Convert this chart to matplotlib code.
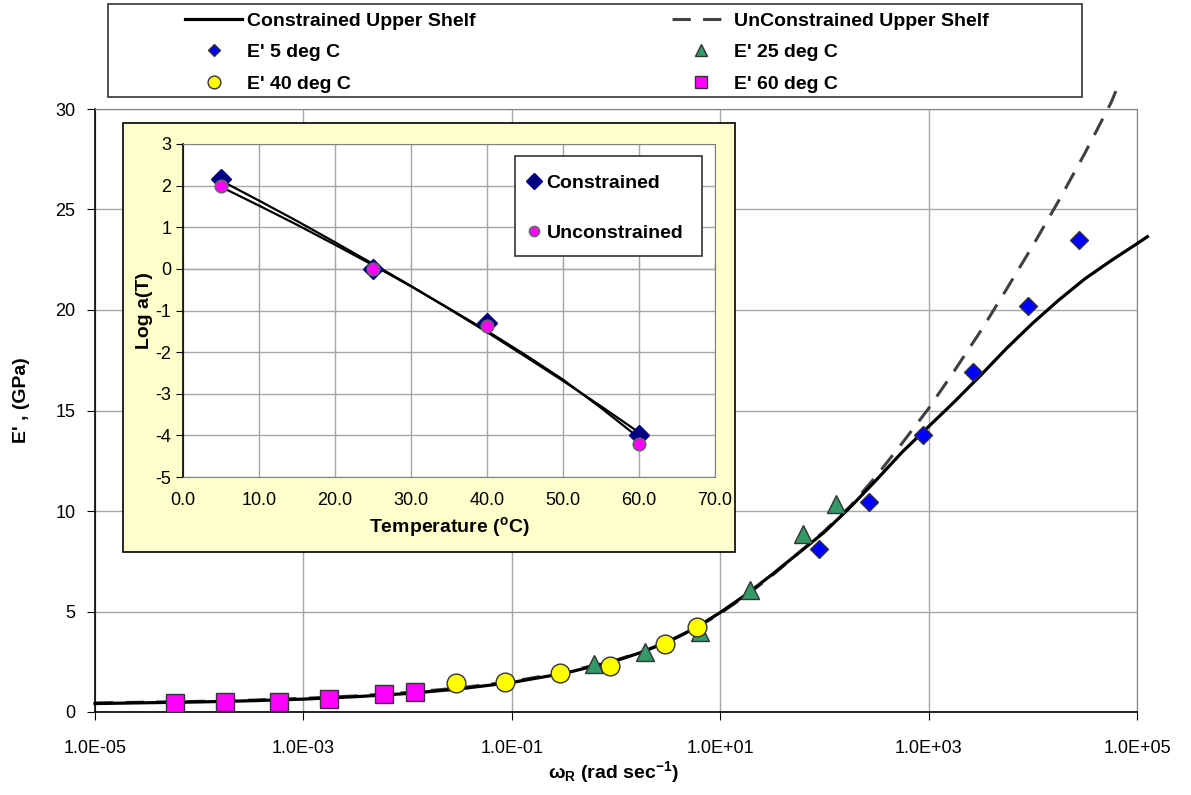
import matplotlib
matplotlib.use("Agg")
import matplotlib.pyplot as plt
from matplotlib.patches import Rectangle
from matplotlib.ticker import NullLocator, NullFormatter

plt.rcParams['font.family'] = ['Liberation Sans', 'DejaVu Sans']
plt.rcParams['axes.unicode_minus'] = False
plt.rcParams['mathtext.fontset'] = 'custom'
plt.rcParams['mathtext.rm'] = 'Liberation Sans'
plt.rcParams['mathtext.bf'] = 'Liberation Sans:bold'
plt.rcParams['mathtext.it'] = 'Liberation Sans:italic'

# --- master curve data (reduced frequency, rad/s ; E' in GPa) ---
w_5C = [89, 268, 890, 2690, 8930, 28000]
E_5C = [8.09, 10.46, 13.78, 16.93, 20.2, 23.5]
w_25C = [0.62, 1.9, 6.4, 19.3, 62.8, 128]
E_25C = [2.39, 2.98, 4.0, 6.07, 8.86, 10.35]
w_40C = [0.029, 0.086, 0.29, 0.88, 2.95, 5.98]
E_40C = [1.46, 1.51, 1.92, 2.29, 3.38, 4.21]
w_60C = [5.9e-5, 1.77e-4, 5.8e-4, 1.76e-3, 5.9e-3, 1.18e-2]
E_60C = [0.46, 0.48, 0.51, 0.65, 0.88, 0.98]

# fitted upper shelf curves
fit_w = [1e-5, 3.16e-5, 1e-4, 3.16e-4, 1e-3, 3.16e-3, 1e-2, 3.16e-2, 0.1, 0.316,
         1, 1.78, 3.16, 5.62, 10, 17.8, 31.6, 56.2, 100, 178, 316, 562, 1000,
         1780, 3160, 5620, 1e4, 1.78e4, 3.16e4, 5.62e4, 1e5, 1.26e5]
E_constr = [0.42, 0.46, 0.50, 0.56, 0.64, 0.76, 0.92, 1.15, 1.47, 1.92,
            2.55, 2.98, 3.5, 4.15, 4.95, 5.85, 6.85, 7.9, 8.95, 10.2, 11.55, 12.95, 14.2,
            15.45, 16.75, 18.1, 19.35, 20.5, 21.55, 22.45, 23.3, 23.65]
fit_w_u = [1e-5, 3.16e-5, 1e-4, 3.16e-4, 1e-3, 3.16e-3, 1e-2, 3.16e-2, 0.1, 0.316,
           1, 1.78, 3.16, 5.62, 10, 17.8, 31.6, 56.2, 100, 178, 316, 562, 1000,
           1780, 3160, 5620, 1e4, 1.78e4, 3.16e4, 5.62e4, 6.46e4]
E_unconstr = [0.45, 0.49, 0.53, 0.59, 0.68, 0.80, 0.97, 1.20, 1.52, 1.97,
              2.58, 3.0, 3.5, 4.12, 4.9, 5.8, 6.8, 7.9, 9.0, 10.25, 11.75, 13.4, 15.1,
              17.0, 18.95, 21.05, 23.2, 25.45, 27.8, 30.3, 31.05]

# --- shift factor inset ---
temps = [5, 25, 40, 60]
loga_constr = [2.15, 0.0, -1.3, -4.0]
loga_unconstr = [1.98, 0.0, -1.38, -4.2]
T_fit = [5, 10, 15, 20, 25, 30, 35, 40, 45, 50, 55, 60]
loga_fit_c = [2.12, 1.64, 1.15, 0.64, 0.12, -0.41, -0.96, -1.52, -2.10, -2.69, -3.30, -3.93]
loga_fit_u = [1.97, 1.52, 1.06, 0.58, 0.09, -0.42, -0.95, -1.49, -2.06, -2.66, -3.34, -4.06]

W, H = 1191, 795
fig = plt.figure(figsize=(W / 100, H / 100), dpi=100)

def fbox(x0, y0, x1, y1):
    # pixel box -> figure fraction [left, bottom, width, height]
    return [x0 / W, 1 - y1 / H, (x1 - x0) / W, (y1 - y0) / H]

grid_c = '#A6A6A6'
edge_c = '#333333'

# main axes
ax = fig.add_axes(fbox(95, 109, 1137, 712))
ax.set_xscale('log')
ax.set_xlim(1e-5, 1e5)
ax.set_ylim(0, 30)
ax.set_xticks([1e-5, 1e-3, 1e-1, 1e1, 1e3, 1e5])
ax.set_xticklabels(['1.0E-05', '1.0E-03', '1.0E-01', '1.0E+01', '1.0E+03', '1.0E+05'])
ax.xaxis.set_minor_locator(NullLocator())
ax.set_yticks(range(0, 31, 5))
ax.grid(True, color=grid_c, lw=1)
ax.set_axisbelow(True)
for s in ['top', 'right']:
    ax.spines[s].set_color('#808080')
for s in ['left', 'bottom']:
    ax.spines[s].set_color('black')
    ax.spines[s].set_linewidth(1.2)
ax.tick_params(direction='out', length=6, labelsize=13, pad=8)
ax.tick_params(axis='x', pad=14)

l_c, = ax.plot(fit_w, E_constr, color='black', lw=2.3, clip_on=False, zorder=3,
               label='Constrained Upper Shelf')
l_u, = ax.plot(fit_w_u, E_unconstr, color='#404040', lw=2.2, dashes=(6, 4),
               clip_on=False, zorder=2, label='UnConstrained Upper Shelf')
m5, = ax.plot(w_5C, E_5C, 'D', ms=9.5, mfc='#0000FF', mec=edge_c, mew=1, ls='none',
              zorder=4, label="E' 5 deg C")
m25, = ax.plot(w_25C, E_25C, '^', ms=13, mfc='#339966', mec=edge_c, mew=1, ls='none',
               zorder=4, label="E' 25 deg C")
m40, = ax.plot(w_40C, E_40C, 'o', ms=13.5, mfc='#FFFF00', mec=edge_c, mew=1, ls='none',
               zorder=5, label="E' 40 deg C")
m60, = ax.plot(w_60C, E_60C, 's', ms=13, mfc='#FF00FF', mec=edge_c, mew=1, ls='none',
               zorder=4, label="E' 60 deg C")

fig.text(22 / W, 1 - 400 / H, "E' , (GPa)", rotation=90, ha='center', va='center',
         fontsize=14, fontweight='bold')
fig.text(613 / W, 1 - 772 / H, r'ω$_{\mathbf{R}}$ (rad sec$^{\mathbf{-1}}$)',
         ha='center', va='center', fontsize=14, fontweight='bold')

# top legend
fig.add_artist(Rectangle((108 / W, 1 - 97 / H), (1082 - 108) / W, 93 / H,
                         transform=fig.transFigure, fill=False, edgecolor='#333333',
                         lw=1.2, zorder=1))
leg_kw = dict(loc='upper left', frameon=False, handlelength=2.95,
              handletextpad=0.25, labelspacing=0.72, borderpad=0, borderaxespad=0,
              markerscale=0.68, prop={'weight': 'bold', 'size': 14})
fig.legend(handles=[l_c, m5, m40], bbox_to_anchor=(185 / W, 1 - 12 / H), **leg_kw)
fig.legend(handles=[l_u, m25, m60], bbox_to_anchor=(672 / W, 1 - 12 / H), **leg_kw)

# inset panel
fig.add_artist(Rectangle((123 / W, 1 - 552 / H), (735 - 123) / W, (552 - 123) / H,
                         transform=fig.transFigure, facecolor='#FFFFCC',
                         edgecolor='black', lw=1.2, zorder=1))
iax = fig.add_axes(fbox(183, 144, 715, 477))
iax.set_zorder(2)
iax.set_xlim(0, 70)
iax.set_ylim(-5, 3)
iax.set_xticks(range(0, 71, 10))
iax.set_xticklabels([f'{t:.1f}' for t in range(0, 71, 10)])
iax.set_yticks(range(-5, 4))
iax.grid(True, color=grid_c, lw=1)
iax.set_axisbelow(True)
for s in ['top', 'right', 'bottom']:
    iax.spines[s].set_color('#808080')
iax.spines['left'].set_color('black')
iax.spines['left'].set_linewidth(1.2)
iax.tick_params(axis='y', direction='out', length=5, labelsize=13)
iax.tick_params(axis='x', length=0, labelsize=13, pad=11)
sec = iax.secondary_xaxis(5 / 8)
sec.set_xticks(range(0, 71, 10))
sec.xaxis.set_major_formatter(NullFormatter())
sec.tick_params(direction='out', length=5)
sec.spines['bottom'].set_color('black')
sec.spines['bottom'].set_linewidth(1.2)

iax.plot(T_fit, loga_fit_c, color='black', lw=1.6, zorder=3)
iax.plot(T_fit, loga_fit_u, color='black', lw=1.6, zorder=3)
ic, = iax.plot(temps, loga_constr, 'D', ms=10, mfc='#000080', mec='#000080', ls='none',
               zorder=4, label='Constrained')
iu, = iax.plot(temps, loga_unconstr, 'o', ms=9, mfc='#FF00FF', mec='#666666', mew=1.2,
               ls='none', zorder=5, label='Unconstrained')
iax.set_ylabel('Log a(T)', fontsize=14, fontweight='bold', labelpad=2)
iax.set_xlabel(r'Temperature ($^{\mathbf{o}}$C)', fontsize=14, fontweight='bold',
               labelpad=4)

# inset legend with its own frame
iax.add_patch(Rectangle((515 / W, 1 - 256 / H), (702 - 515) / W, 100 / H,
                        transform=fig.transFigure, facecolor='white',
                        edgecolor='#333333', lw=1.2, clip_on=False, zorder=4.6))
il = iax.legend(handles=[ic, iu], loc='upper left', bbox_to_anchor=(526 / W, 1 - 174 / H),
                bbox_transform=fig.transFigure, borderaxespad=0, frameon=False,
                handlelength=0.8, handletextpad=0.26, borderpad=0, labelspacing=1.7,
                markerscale=0.8, prop={'weight': 'bold', 'size': 14})
il.set_zorder(5)

fig.savefig('out.png', dpi=100)
